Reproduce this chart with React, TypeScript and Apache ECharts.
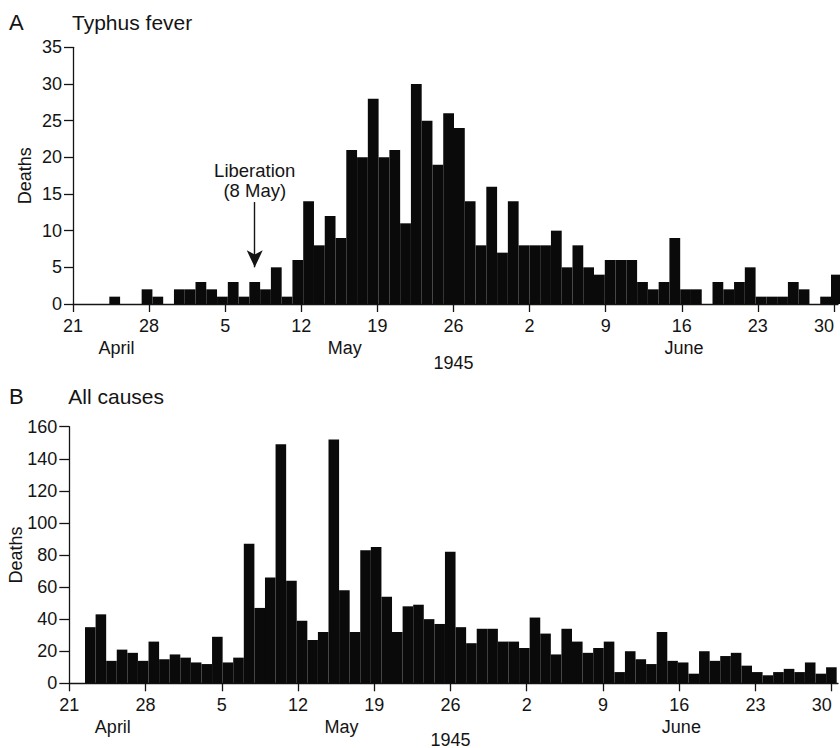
import React, { useEffect, useRef } from 'react';
import * as echarts from 'echarts';

// ---------- data ----------
// Panel A: daily typhus deaths, first bar = 25 April 1945
const typhusStartDate = '1945-04-25';
const typhusDeaths = [
  1, 0, 0, 2, 1, 0, 2, 2, 3, 2,
  1, 3, 1, 3, 2, 5, 1, 6, 14, 8,
  12, 9, 21, 20, 28, 20, 21, 11, 30, 25,
  19, 26, 24, 14, 8, 16, 7, 14, 8, 8,
  8, 10, 5, 8, 5, 4, 6, 6, 6, 3,
  2, 3, 9, 2, 2, 0, 3, 2, 3, 5,
  1, 1, 1, 3, 2, 0, 1, 4,
];
// Panel B: daily deaths from all causes, first bar = 23 April 1945
const allCausesStartDate = '1945-04-23';
const allCausesDeaths = [
  35, 43, 14, 21, 19, 14, 26, 15, 18, 16,
  13, 12, 29, 13, 16, 87, 47, 66, 149, 64,
  39, 27, 32, 152, 58, 32, 83, 85, 54, 32,
  48, 49, 40, 37, 82, 35, 25, 34, 34, 26,
  26, 22, 41, 31, 18, 34, 26, 19, 22, 26,
  7, 20, 15, 12, 32, 14, 13, 6, 20, 14,
  17, 19, 11, 7, 5, 7, 9, 7, 13, 6, 10,
];
// x axis: days since 21 April, weekly ticks
const weekTickDays = [0, 7, 14, 21, 28, 35, 42, 49, 56, 63, 70];
const weekTickLabels = ['21', '28', '5', '12', '19', '26', '2', '9', '16', '23', '30'];
const monthLabels = ['April', 'May', 'June'];
const monthLabelDays = [4, 25, 56.2];
const yearLabel = '1945';
const yearLabelDay = 35;
const liberationDate = '8 May';
const liberationArrowFrom = 13.9;
const liberationArrowTo = 5;

const MONTHS = ['Jan', 'Feb', 'Mar', 'Apr', 'May', 'Jun', 'Jul', 'Aug', 'Sep', 'Oct', 'Nov', 'Dec'];
function dayLabels(start: string, n: number): string[] {
  const t0 = new Date(start + 'T00:00:00Z').getTime();
  const out: string[] = [];
  for (let i = 0; i < n; i++) {
    const d = new Date(t0 + i * 86400000);
    out.push(`${d.getUTCDate()} ${MONTHS[d.getUTCMonth()]}`);
  }
  return out;
}
const typhusDates = dayLabels(typhusStartDate, typhusDeaths.length);
const allCausesDates = dayLabels(allCausesStartDate, allCausesDeaths.length);

// ---------- layout ----------
const FONT = '"Liberation Sans", Arial, Helvetica, sans-serif';
const INK = '#141414';
const BAR = '#0a0a0a';
const FS = 18;

const panels = [
  {
    letter: 'A', title: 'Typhus fever',
    axisLeft: 73, axisWidth: 765, dayPx: 10.871,
    top: 47.3, height: 256.7,
    barLeft: 109.33, barPitch: 10.771,
    yMax: 35, yInterval: 5, nameGap: 40, tickLen: 9,
    data: typhusDeaths, dates: typhusDates,
    letterY: 22, monthY: 348, yearY: 362.5,
  },
  {
    letter: 'B', title: 'All causes',
    axisLeft: 69.3, axisWidth: 768.7, dayPx: 10.891,
    top: 426.7, height: 256.6,
    barLeft: 85, barPitch: 10.587,
    yMax: 160, yInterval: 20, nameGap: 45, tickLen: 10,
    data: allCausesDeaths, dates: allCausesDates,
    letterY: 396, monthY: 726.5, yearY: 739.5,
  },
];

function buildOption() {
  const grid: any[] = [];
  const xAxis: any[] = [];
  const yAxis: any[] = [];
  const series: any[] = [];
  const graphic: any[] = [];
  const labelStyle = { color: INK, fontSize: FS, fontFamily: FONT, lineHeight: 16 };

  panels.forEach((p, i) => {
    const gAxis = i * 2;
    const gBars = i * 2 + 1;
    grid.push({ left: p.axisLeft, top: p.top, width: p.axisWidth, height: p.height, containLabel: false, outerBoundsMode: 'none' });
    grid.push({ left: p.barLeft, top: p.top, width: p.barPitch * p.data.length, height: p.height, containLabel: false, outerBoundsMode: 'none' });

    xAxis.push({
      gridIndex: gAxis, type: 'value', min: 0, max: p.axisWidth / p.dayPx, interval: 7,
      axisLine: { show: true, lineStyle: { color: INK, width: 1.3 } },
      axisTick: { show: true, inside: false, length: 8, lineStyle: { color: INK, width: 1.3 }, customValues: weekTickDays },
      axisLabel: {
        ...labelStyle, margin: 14, customValues: weekTickDays, alignMaxLabel: 'right',
        formatter: (v: number) => { const k = weekTickDays.indexOf(Math.round(v)); return k >= 0 && Math.abs(v - weekTickDays[k]) < 1e-6 ? weekTickLabels[k] : ''; },
      },
      splitLine: { show: false },
    });
    xAxis.push({ gridIndex: gBars, type: 'category', data: p.dates, show: false, boundaryGap: true });

    yAxis.push({
      gridIndex: gAxis, type: 'value', min: 0, max: p.yMax, interval: p.yInterval,
      name: 'Deaths', nameLocation: 'middle', nameGap: p.nameGap, nameRotate: 90,
      nameMoveOverlap: false,
      nameTextStyle: { ...labelStyle },
      axisLine: { show: true, lineStyle: { color: INK, width: 1.3 } },
      axisTick: { show: true, inside: false, length: p.tickLen, lineStyle: { color: INK, width: 1.3 } },
      axisLabel: { ...labelStyle, margin: p.tickLen + 2 },
      splitLine: { show: false },
    });
    yAxis.push({ gridIndex: gBars, type: 'value', min: 0, max: p.yMax, show: false, splitLine: { show: false } });

    const s: any = {
      type: 'bar', name: p.title, xAxisIndex: gBars, yAxisIndex: gBars,
      data: p.data, barCategoryGap: '0%', barGap: '0%',
      itemStyle: { color: BAR },
      silent: true,
    };
    if (i === 0) {
      s.markLine = {
        silent: true, animation: false,
        symbol: ['none', 'arrow'], symbolSize: [12, 17],
        lineStyle: { color: INK, width: 1.4, type: 'solid' },
        label: {
          show: true, position: 'start', formatter: 'Liberation\n(8 May)',
          color: INK, fontSize: 18.5, lineHeight: 20, fontFamily: FONT, distance: 2,
        },
        data: [[{ coord: [liberationDate, liberationArrowFrom] }, { coord: [liberationDate, liberationArrowTo] }]],
      };
    }
    series.push(s);

    graphic.push({ type: 'text', x: 9, y: p.letterY, style: { text: p.letter, fontSize: 22, fontFamily: FONT, fill: INK, textVerticalAlign: 'middle', verticalAlign: 'middle' } });
    graphic.push({ type: 'text', x: p.axisLeft - 1, y: p.letterY, style: { text: p.title, fontSize: 21, fontFamily: FONT, fill: INK, textVerticalAlign: 'middle', verticalAlign: 'middle' } });
    monthLabels.forEach((m, k) => {
      graphic.push({
        type: 'text', x: p.axisLeft + monthLabelDays[k] * p.dayPx, y: p.monthY,
        style: { text: m, fontSize: FS, lineHeight: 16, fontFamily: FONT, fill: INK, textAlign: 'center', align: 'center', textVerticalAlign: 'middle', verticalAlign: 'middle' },
      });
    });
    graphic.push({
      type: 'text', x: p.axisLeft + yearLabelDay * p.dayPx, y: p.yearY,
      style: { text: yearLabel, fontSize: FS, lineHeight: 16, fontFamily: FONT, fill: INK, textAlign: 'center', align: 'center', textVerticalAlign: 'middle', verticalAlign: 'middle' },
    });
  });

  return {
    animation: false,
    backgroundColor: '#ffffff',
    textStyle: { fontFamily: FONT },
    grid, xAxis, yAxis, series, graphic,
  };
}

export default function App() {
  const ref = useRef<HTMLDivElement>(null);
  useEffect(() => {
    if (!ref.current) return;
    const chart = echarts.init(ref.current, null, { renderer: 'svg' });
    chart.setOption(buildOption() as any);
    return () => chart.dispose();
  }, []);
  return (
    <div style={{ position: 'fixed', left: 0, top: 0, width: 840, height: 748, background: '#fff' }}>
      <div ref={ref} style={{ width: 840, height: 748 }} />
    </div>
  );
}
